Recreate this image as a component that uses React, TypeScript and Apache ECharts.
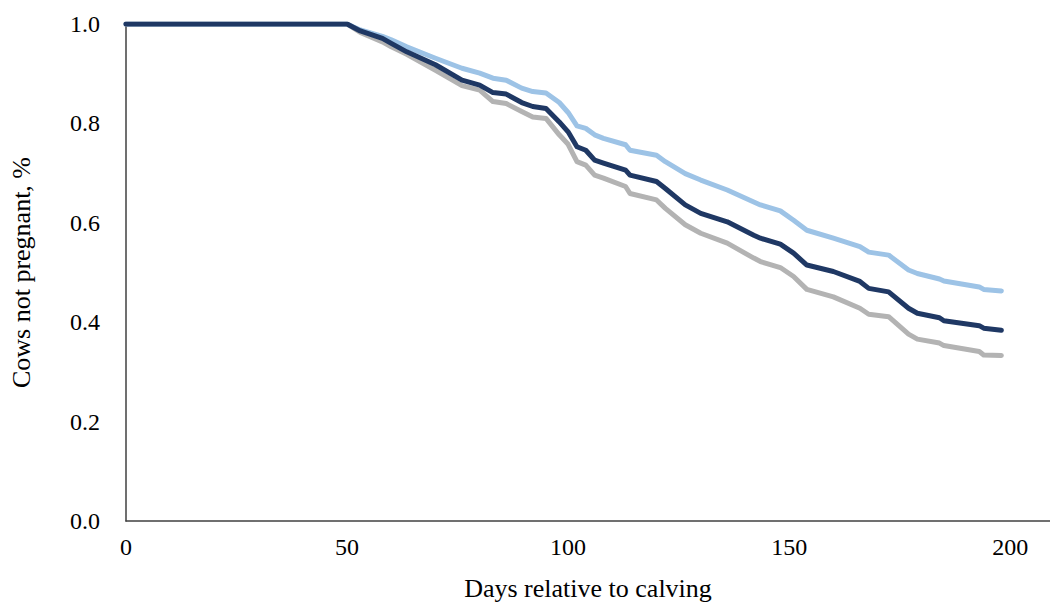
import React, { useEffect, useRef } from "react";
import * as echarts from "echarts";

const days = [0, 50, 53, 58, 60, 63.5, 70, 76, 80, 83, 86, 89.5, 92, 95, 98, 100, 102, 104, 106, 108, 113, 114, 120, 122, 126.5, 130, 136, 142, 143.5, 148, 151, 154, 160, 166, 168, 172.5, 177, 179, 184, 185, 193, 194, 198];

const lightBlue = [1.0, 1.0, 0.988, 0.975, 0.968, 0.954, 0.931, 0.911, 0.901, 0.891, 0.887, 0.871, 0.864, 0.861, 0.842, 0.822, 0.795, 0.79, 0.777, 0.77, 0.757, 0.746, 0.736, 0.723, 0.699, 0.686, 0.666, 0.642, 0.636, 0.624, 0.605, 0.585, 0.569, 0.552, 0.541, 0.535, 0.505, 0.498, 0.487, 0.483, 0.471, 0.466, 0.463];

const navy = [1.0, 1.0, 0.986, 0.971, 0.961, 0.944, 0.918, 0.887, 0.877, 0.862, 0.859, 0.842, 0.834, 0.83, 0.803, 0.783, 0.753, 0.746, 0.726, 0.72, 0.706, 0.696, 0.683, 0.669, 0.636, 0.619, 0.602, 0.575, 0.569, 0.557, 0.539, 0.515, 0.502, 0.482, 0.468, 0.461, 0.428, 0.418, 0.409, 0.403, 0.393, 0.388, 0.384];

const gray = [1.0, 1.0, 0.983, 0.964, 0.954, 0.939, 0.907, 0.876, 0.867, 0.844, 0.84, 0.824, 0.813, 0.81, 0.777, 0.758, 0.723, 0.716, 0.696, 0.69, 0.673, 0.659, 0.646, 0.629, 0.596, 0.579, 0.559, 0.529, 0.522, 0.51, 0.492, 0.466, 0.451, 0.428, 0.416, 0.411, 0.376, 0.366, 0.358, 0.353, 0.341, 0.334, 0.333];

const xTicks = [0, 50, 100, 150, 200];
const yTicks = ["0.0", "0.2", "0.4", "0.6", "0.8", "1.0"];

const FONT = '"Liberation Serif", "Times New Roman", serif';

function pairs(vals: number[]) {
  return days.map((d, i) => [d, vals[i]]);
}

export default function App() {
  const ref = useRef<HTMLDivElement>(null);
  useEffect(() => {
    document.body.style.margin = "0";
    const chart = echarts.init(ref.current!, undefined, { renderer: "svg" });
    const lineSeries = (name: string, vals: number[], color: string, z: number) => ({
      name,
      type: "line",
      data: pairs(vals),
      showSymbol: false,
      symbol: "none",
      z,
      lineStyle: { color, width: 5, cap: "round", join: "round" },
    });
    chart.setOption({
      animation: false,
      backgroundColor: "#ffffff",
      grid: { left: 126, right: 0, top: 24, bottom: 83, outerBoundsMode: "none", containLabel: false },
      xAxis: {
        type: "value",
        min: 0,
        max: 209,
        interval: 50,
        name: "Days relative to calving",
        nameLocation: "middle",
        nameGap: 54,
        nameTextStyle: { fontFamily: FONT, fontSize: 26, color: "#000" },
        axisLine: { show: true, lineStyle: { color: "#404040", width: 1.5 } },
        axisTick: { show: false },
        splitLine: { show: false },
        axisLabel: {
          fontFamily: FONT,
          fontSize: 24,
          color: "#000",
          margin: 14,
          showMaxLabel: false,
          formatter: (v: number) => (xTicks.includes(v) ? String(v) : ""),
        },
      },
      yAxis: {
        type: "value",
        min: 0,
        max: 1,
        interval: 0.2,
        name: "Cows not pregnant, %",
        nameLocation: "middle",
        nameRotate: 90,
        nameGap: 92,
        nameTextStyle: { fontFamily: FONT, fontSize: 26, color: "#000" },
        axisLine: { show: true, lineStyle: { color: "#404040", width: 1.5 } },
        axisTick: { show: false },
        splitLine: { show: false },
        axisLabel: {
          fontFamily: FONT,
          fontSize: 24,
          color: "#000",
          margin: 26,
          formatter: (v: number) => yTicks[Math.round(v * 5)] ?? "",
        },
      },
      series: [
        lineSeries("Gray", gray, "#B3B3B3", 1),
        lineSeries("Light blue", lightBlue, "#9DC3E6", 2),
        lineSeries("Navy", navy, "#1F3864", 3),
      ],
    });
    return () => chart.dispose();
  }, []);
  return <div ref={ref} style={{ width: 1050, height: 604 }} />;
}
